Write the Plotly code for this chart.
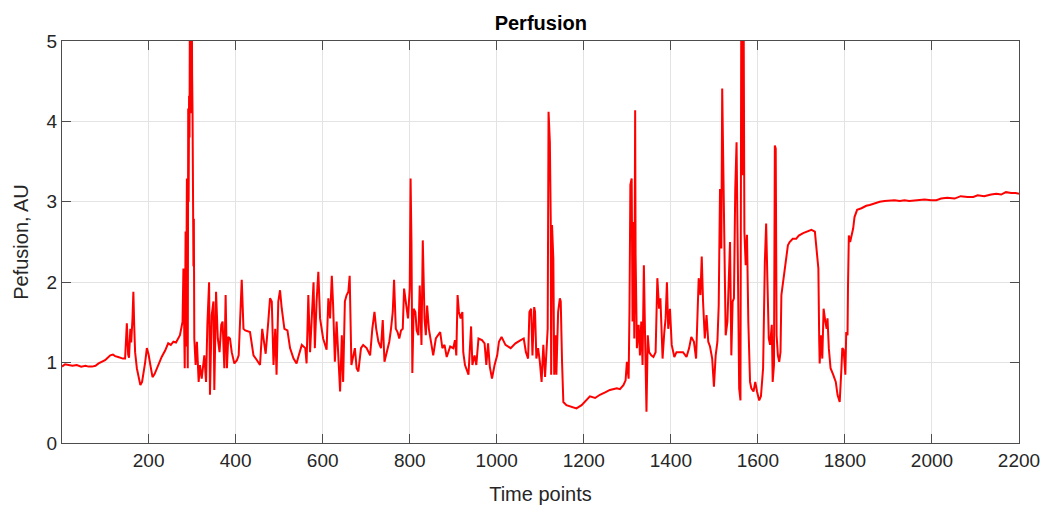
import plotly.graph_objects as go

# Perfusion recording, sampled at the time points where the trace changes shape
time_points = [
    1, 8, 16, 25, 35, 45, 55, 62, 70, 78, 85, 92, 100, 106, 112, 118, 123, 130, 135, 141,
    146, 150, 153, 155, 158, 160, 163, 165, 167, 169, 173, 177, 181, 185, 188, 192, 196, 200,
    204, 209, 214, 219, 225, 230, 238, 245, 251, 257, 263, 269,
    272, 278, 280, 283, 285, 286, 288, 289, 290, 291, 292, 293, 294, 295, 296, 297, 298, 299,
    300, 301, 302, 303, 304, 305, 308, 311, 315, 318, 322, 328, 332, 335, 339, 341, 345, 349,
    351, 355, 359, 363, 367, 370, 374, 377, 380, 383, 387, 391, 397, 403, 407, 410, 414, 418,
    422, 433, 441, 449, 456, 461, 465, 469, 475, 479, 483, 487, 491, 494, 498, 502, 506, 512,
    519, 525, 533, 540,
    544, 552, 560, 563, 567, 571, 579, 582, 586, 590, 594, 601, 609, 613, 617, 621, 624, 628,
    632, 636, 640, 644, 647, 651, 655, 659, 662, 666, 670, 674, 678, 682, 688, 693, 701, 709,
    714, 719, 723, 728, 734, 738, 742, 747, 753, 757, 761, 764, 768, 772, 776, 780, 784, 787,
    791, 796, 800, 802, 804, 806, 809, 813, 816, 820, 823, 827, 830, 834, 837, 840, 844, 849,
    854, 860, 866, 870, 875, 880, 885, 893, 900, 904, 907, 910, 913, 917, 921, 923, 927, 935,
    941, 944, 949, 953, 958, 966, 972, 976, 980, 984, 989, 995, 1001, 1005, 1011, 1020, 1032,
    1043, 1055, 1062, 1067, 1072, 1075, 1079, 1082, 1086, 1088, 1091, 1095, 1099, 1103, 1107,
    1111, 1114, 1117, 1119, 1122, 1124, 1125, 1127, 1130, 1132, 1135, 1137, 1141, 1145, 1147,
    1150, 1153, 1160, 1172, 1183, 1195, 1206, 1214, 1226, 1237, 1249, 1260, 1276, 1283, 1291,
    1296, 1299, 1303, 1305, 1307, 1310, 1312, 1314, 1316, 1318, 1319, 1322, 1326, 1329, 1332,
    1335, 1338, 1341, 1344, 1347, 1350, 1355, 1360, 1365, 1369, 1373, 1376, 1378, 1381, 1385,
    1388, 1391, 1394, 1398, 1402, 1408, 1413, 1421, 1428, 1436, 1442, 1447, 1453, 1458, 1461,
    1464, 1468, 1471, 1474, 1478, 1482, 1486, 1490, 1495, 1499, 1503, 1507, 1510, 1513, 1516,
    1518, 1521, 1524, 1526, 1530, 1533, 1536, 1539, 1542, 1545, 1548, 1551, 1554, 1557, 1560,
    1562, 1565, 1567, 1569, 1572, 1575, 1578, 1582, 1585, 1590, 1594, 1598, 1603, 1607, 1612,
    1616, 1619, 1622, 1625, 1628, 1632, 1634, 1637, 1639, 1641, 1643, 1646, 1649, 1652, 1654,
    1658, 1661, 1665, 1669, 1673, 1680, 1688, 1694, 1704, 1715, 1723, 1731, 1735, 1739, 1741,
    1742, 1745, 1748, 1751, 1753, 1755, 1758, 1760, 1763, 1767, 1773, 1779, 1783, 1788, 1792,
    1794, 1797, 1801, 1803, 1806, 1807, 1809, 1812, 1815, 1819, 1822, 1828, 1838, 1849, 1857,
    1868, 1880, 1891, 1903, 1914, 1926, 1937, 1948, 1960, 1971, 1983, 1998, 2010, 2021, 2035,
    2052, 2066, 2082, 2095, 2105, 2120, 2136, 2148, 2159, 2170, 2182, 2192, 2200,
]

perfusion = [
    0.95, 0.98, 0.97, 0.96, 0.97, 0.95, 0.96, 0.95, 0.95, 0.96, 0.99, 1.01, 1.03, 1.06, 1.09,
    1.10, 1.08, 1.07, 1.06, 1.05, 1.05, 1.49, 1.10, 1.06, 1.42, 1.25, 1.55, 1.88, 1.45, 1.13,
    0.93, 0.82, 0.72, 0.76, 0.85, 1.00, 1.18, 1.10, 0.97, 0.82, 0.86, 0.93, 1.00, 1.07, 1.15,
    1.24, 1.22, 1.26, 1.25, 1.32,
    1.34, 1.51, 2.17, 0.93, 2.63, 1.20, 3.29, 1.50, 0.93, 4.16, 3.00, 4.32, 3.80, 5.80, 4.50,
    5.80, 4.10, 5.80, 4.60, 4.08, 3.41, 2.20, 2.79, 1.30, 0.97, 1.26, 0.76, 0.97, 0.80, 1.09,
    0.76, 1.47, 2.00, 0.60, 1.59, 1.76, 0.66, 1.88, 1.30, 1.13, 1.47, 1.51, 0.93, 1.84, 0.93,
    1.32, 1.30, 1.13, 0.99, 1.03, 1.09, 1.42, 2.03, 1.42, 1.40, 1.38, 1.09, 1.03, 0.97, 1.42,
    1.26, 1.11, 1.51, 1.80, 1.76, 0.97, 1.42, 0.85, 1.76, 1.90, 1.67, 1.42, 1.40, 1.18, 1.05,
    0.99,
    1.07, 1.22, 1.18, 0.99, 1.84, 1.13, 2.00, 1.18, 1.76, 2.13, 1.55, 1.30, 1.16, 1.80, 1.55,
    2.08, 1.71, 1.01, 1.51, 0.97, 0.64, 1.34, 0.76, 1.76, 1.84, 1.88, 2.08, 0.97, 1.09, 1.18,
    0.93, 0.89, 1.18, 1.22, 1.18, 1.09, 1.42, 1.63, 1.42, 1.26, 1.18, 1.53, 1.01, 1.13, 1.26,
    1.42, 1.63, 2.03, 1.42, 1.38, 1.30, 1.40, 1.42, 1.92, 1.76, 1.55, 1.92, 3.29, 2.50, 0.87,
    1.67, 1.63, 1.40, 1.34, 1.96, 1.22, 2.52, 1.55, 1.34, 1.71, 1.42, 1.26, 1.09, 1.30, 1.34,
    1.38, 1.18, 1.22, 1.07, 1.20, 1.18, 1.28, 1.09, 1.84, 1.63, 1.55, 1.63, 1.13, 0.97, 0.85,
    1.45, 0.97, 1.09, 0.97, 1.30, 1.28, 1.24, 0.97, 1.24, 0.95, 0.80, 0.97, 1.09, 1.26, 1.32,
    1.22, 1.18, 1.24, 1.28, 1.30, 1.13, 1.05, 1.63, 1.67, 1.09, 1.69, 1.63, 1.05, 1.18, 1.01,
    0.76, 1.22, 0.82, 1.09, 1.42, 4.12, 3.74, 2.79, 0.85, 2.71, 2.29, 0.85, 1.34, 0.85, 1.63,
    1.80, 1.76, 1.01, 0.51, 0.47, 0.45, 0.43, 0.47, 0.53, 0.58, 0.56, 0.60, 0.63, 0.66, 0.68,
    0.67, 0.72, 0.78, 1.01, 0.80, 1.67, 3.21, 3.29, 1.51, 2.75, 1.30, 4.14, 2.34, 1.18, 1.47,
    1.09, 1.51, 0.97, 2.21, 1.26, 0.39, 1.34, 1.13, 1.09, 1.07, 1.13, 2.05, 1.67, 1.80, 1.51,
    1.05, 1.38, 1.55, 2.00, 1.42, 1.67, 1.22, 1.07, 1.13, 1.13, 1.13, 1.07, 1.18, 1.32, 1.26,
    1.05, 1.63, 2.05, 1.84, 2.32, 1.76, 1.30, 1.59, 1.26, 1.20, 1.05, 0.70, 1.09, 1.26, 1.71,
    3.16, 2.42, 4.41, 3.08, 2.05, 1.34, 1.51, 2.17, 2.50, 1.09, 1.76, 1.80, 3.16, 3.74, 2.38,
    0.68, 0.53, 5.80, 3.33, 5.80, 2.63, 2.21, 2.59, 1.51, 0.76, 0.68, 0.64, 0.76, 0.64, 0.53,
    0.58, 0.93, 2.25, 2.73, 2.00, 1.30, 1.22, 1.47, 0.76, 0.97, 3.70, 3.66, 1.34, 1.09, 1.01,
    1.13, 1.84, 2.00, 2.17, 2.34, 2.46, 2.50, 2.54, 2.54, 2.58, 2.61, 2.63, 2.65, 2.63, 2.38,
    2.17, 1.26, 0.99, 1.34, 1.05, 1.67, 1.55, 1.51, 1.42, 1.55, 1.18, 0.93, 0.85, 0.76, 0.60,
    0.51, 0.93, 1.18, 1.16, 0.85, 1.38, 1.34, 1.92, 2.58, 2.50, 2.58, 2.67, 2.81, 2.90, 2.92,
    2.95, 2.96, 2.98, 3.00, 3.01, 3.02, 3.02, 3.01, 3.02, 3.01, 3.02, 3.02, 3.03, 3.02, 3.02,
    3.04, 3.05, 3.04, 3.07, 3.06, 3.06, 3.08, 3.07, 3.09, 3.10, 3.09, 3.12, 3.11, 3.11, 3.10,
]

x_ticks = [200, 400, 600, 800, 1000, 1200, 1400, 1600, 1800, 2000, 2200]
y_ticks = [0, 1, 2, 3, 4, 5]

font_family = "Liberation Sans, Arial, sans-serif"
axis_font = dict(family=font_family, size=19, color="#262626")
label_font = dict(family=font_family, size=20, color="#262626")

fig = go.Figure(
    go.Scatter(
        x=time_points,
        y=perfusion,
        mode="lines",
        line=dict(color="#ff0000", width=2),
        showlegend=False,
        hoverinfo="x+y",
    )
)

common_axis = dict(
    showline=True,
    linecolor="#4d4d4d",
    linewidth=1,
    mirror="ticks",
    ticks="inside",
    ticklen=9,
    tickwidth=1,
    tickcolor="#4d4d4d",
    showgrid=True,
    gridcolor="#e3e3e3",
    gridwidth=1,
    zeroline=False,
    automargin=False,
    tickfont=axis_font,
)

fig.update_xaxes(
    range=[1, 2200],
    tickvals=x_ticks,
    ticktext=[str(v) for v in x_ticks],
    title=dict(text="Time points", font=label_font, standoff=18),
    **common_axis,
)
fig.update_yaxes(
    range=[0, 5],
    tickvals=y_ticks,
    ticktext=[str(v) for v in y_ticks],
    title=dict(text="Pefusion, AU", font=label_font, standoff=12),
    **common_axis,
)

fig.update_layout(
    width=1043,
    height=505,
    margin=dict(l=62, r=24, t=41, b=62),
    paper_bgcolor="white",
    plot_bgcolor="white",
    title=dict(
        text="<b>Perfusion</b>",
        x=0.5185,
        xanchor="center",
        y=0.955,
        yanchor="middle",
        font=dict(family=font_family, size=20, color="#000000"),
    ),
)

fig.write_html("out.html")
